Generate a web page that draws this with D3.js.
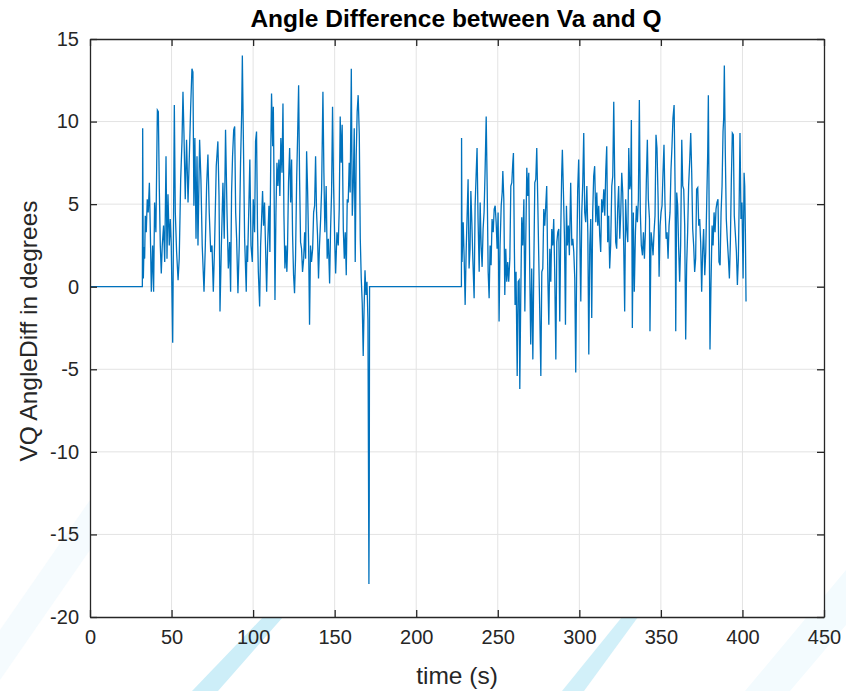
<!DOCTYPE html>
<html>
<head>
<meta charset="utf-8">
<script src="https://cdn.jsdelivr.net/npm/d3@7"></script>
<style>
  body { margin: 0; background: #fff; }
  svg { display: block; font-family: Arial, "Liberation Sans", Helvetica, sans-serif; }
</style>
</head>
<body>
<svg id="chart" width="846" height="691"></svg>
<script>
/* chart values: [time (s), angle diff (deg)] */
var idleStart = [[0, 0], [32.1, 0]];
var burstOne = [
  [32.3, 9.6], [32.7, 0.5], [33.1, 2.4], [33.5, 1.7], [33.9, 4.3], [34.5, 3.3], [35.1, 5.3], [35.7, 4.5],
  [36.4, 6.3], [37.0, 3.3], [37.6, -0.3], [38.4, 2.5], [39.0, -0.3], [39.6, 5.1], [40.4, 3.3], [41.3, 10.7],
  [41.9, 10.6], [42.5, 5.9], [43.1, 2.5], [43.7, 0.8], [44.3, 2.5], [45.1, 3.7], [45.8, 1.5], [46.6, 7.9],
  [47.2, 1.7], [47.8, 5.6], [48.6, 2.5], [49.2, 4.1], [49.8, 2.6], [50.7, -3.4], [51.7, 11.0], [52.3, 4.5],
  [53.1, 2.1], [54.0, 0.4], [54.7, 1.7], [55.6, 6.5], [56.4, 8.8], [57.0, 11.8], [57.6, 9.3], [58.4, 5.3],
  [59.2, 8.9], [60.1, 5.1], [60.9, 7.9], [61.7, 10.8], [62.5, 13.2], [63.1, 13.0], [63.7, 4.9], [64.3, 9.0],
  [65.0, 2.9], [65.6, 7.9], [66.2, 2.5], [67.2, 8.9], [68.0, 6.5], [68.8, 2.5], [69.9, -0.3], [70.7, 2.5],
  [71.5, 6.1], [72.3, 8.0], [73.1, 4.5], [74.0, 2.1], [74.8, 2.5], [75.6, -0.3], [76.4, 2.6], [77.4, 7.3],
  [78.4, 8.8], [79.1, 5.5], [79.7, -1.5], [80.5, 2.3], [81.5, 6.3], [82.3, 2.9], [83.1, 9.5], [84.0, 4.5],
  [84.8, 1.1], [85.6, 2.7], [86.2, -0.3], [86.8, 5.7], [87.4, 7.9], [88.1, 9.5], [88.7, 9.7], [89.3, 4.5],
  [89.9, 2.9], [90.7, -0.4], [91.5, 2.5], [92.3, 7.5], [93.0, 10.6], [93.4, 14.0], [94.0, 9.2], [94.8, 2.9],
  [95.8, -0.3], [96.2, 2.5], [96.6, 1.5], [97.4, 4.9], [98.0, 7.7], [98.7, 2.5], [99.5, 1.5], [100.1, 5.3],
  [100.9, 3.3], [101.5, 8.8], [102.1, 9.4], [102.7, 3.5], [103.2, 0.9], [104.0, -1.2], [104.6, 2.5], [105.2, 4.1],
  [105.8, 5.8], [106.4, 3.7], [107.0, 5.1], [107.6, 2.5], [108.3, -0.3], [108.9, 2.5], [109.7, 4.9], [110.3, 2.1],
  [110.9, 8.8], [111.3, 11.7], [112.0, 8.5], [112.4, 10.9], [113.0, 4.5], [113.4, -0.8], [114.0, 4.5], [114.6, 7.5],
  [115.2, 6.1], [115.8, 7.7], [116.4, 5.5], [117.0, 9.0], [117.7, 6.9], [118.3, 11.1], [118.9, 4.3], [119.5, 1.1],
  [120.1, 2.5], [120.7, 0.9], [121.1, 2.3], [121.7, 6.3], [122.4, 8.4], [123.0, 5.1], [123.6, 7.7], [124.2, 3.1],
  [124.8, 0.7], [125.4, -0.4], [126.0, 1.7], [126.7, 6.5], [127.3, 9.2], [127.9, 12.2], [128.5, 6.5], [129.1, 2.7],
  [129.7, 2.3], [130.3, 0.9], [131.0, 1.7], [131.6, 3.3], [132.2, 1.7], [132.8, 8.2], [133.4, 5.9], [134.0, 2.7],
  [134.6, -2.3], [135.2, 2.5], [135.8, 1.5], [136.5, 2.3], [137.1, 4.5], [137.7, 4.9], [138.3, 7.9], [138.9, 4.5],
  [139.5, 3.1], [140.1, 0.5], [140.7, 2.5], [141.4, 4.1], [142.0, 5.9], [142.8, 11.8], [143.4, 6.9], [144.0, 3.3],
  [144.8, 6.1], [145.4, 1.7], [146.1, 2.9], [146.9, 0.2], [147.5, 3.5], [148.1, 5.7], [148.7, 10.9], [149.3, 6.3],
  [150.0, 2.9], [150.6, 0.8], [151.4, 3.3], [152.2, 2.5], [152.8, 4.7], [153.4, 10.3], [154.0, 7.5], [154.6, 9.8],
  [155.3, 3.5], [155.9, 1.7], [156.5, 3.3], [157.1, 0.7], [157.7, 5.3], [158.3, 5.1], [158.9, 7.5], [159.5, 5.7],
  [160.2, 13.2], [160.8, 4.3], [161.4, 6.1], [162.0, 9.6], [162.6, 1.5], [163.2, 7.9], [163.8, 10.6], [164.4, 11.6],
  [165.1, 9.2], [165.7, 2.9], [166.3, 0.5], [166.9, -1.0], [167.5, -4.2], [168.0, -1.5], [168.6, 1.0], [169.2, -0.5],
  [169.8, 0.3], [170.4, -2.0], [171.0, -18.0], [171.2, -13.0]
];
var idleMiddle = [[171.4, 0], [227.7, 0]];
var burstTwo = [
  [227.8, 9.0], [228.1, 1.5], [228.8, 3.9], [229.4, 1.7], [230.0, -1.1], [230.6, 2.1], [231.2, 4.3], [231.8, 6.5],
  [232.4, 1.1], [233.0, 2.3], [233.5, 5.8], [234.1, 3.9], [234.7, 1.7], [235.5, -0.7], [236.1, 4.9], [236.7, 6.7],
  [237.3, 8.4], [237.9, 4.1], [238.6, 0.9], [239.2, 5.1], [239.8, 2.5], [240.4, 1.2], [241.0, 3.5], [241.6, 4.5],
  [242.2, 6.9], [242.9, 10.3], [243.5, 6.1], [244.1, 0.9], [244.7, -0.7], [245.3, 2.5], [245.9, 1.3], [246.5, 4.1],
  [247.2, 3.3], [247.8, 4.7], [248.4, 4.9], [249.0, 3.9], [249.6, 2.3], [250.2, 4.5], [250.8, -2.1], [251.4, 2.5],
  [252.1, 4.9], [252.7, 5.7], [253.1, 7.0], [253.7, 5.3], [254.3, -0.5], [254.9, 2.3], [255.5, 0.3], [256.1, 1.5],
  [256.7, 0.3], [257.4, 1.7], [258.0, 6.1], [258.6, 6.3], [259.2, 7.5], [259.6, 8.1], [260.2, 2.1], [260.6, -1.1],
  [261.2, 0.9], [261.9, -5.4], [262.5, 0.3], [263.1, 0.4], [263.5, -6.2], [264.1, -0.5], [264.7, 4.2], [265.3, 2.5],
  [266.0, 5.3], [266.6, -1.5], [267.2, 3.1], [267.8, 7.2], [268.4, 5.5], [269.0, 6.9], [269.6, 0.9], [270.2, -3.5],
  [270.8, 1.1], [271.5, -4.4], [272.1, 1.3], [272.7, 6.3], [273.3, 6.5], [273.9, 8.4], [274.5, 5.3], [275.1, 1.9],
  [275.7, -1.3], [276.4, -5.4], [277.0, 0.9], [277.6, 1.1], [278.2, 4.7], [278.8, 3.7], [279.4, 4.9], [280.0, 6.1],
  [280.7, 0.5], [281.3, -2.3], [281.9, 2.3], [282.5, 0.3], [283.1, 3.5], [283.7, 2.5], [284.3, 4.1], [284.9, 0.9],
  [285.6, -4.4], [286.2, 2.7], [286.8, 3.3], [287.4, 3.5], [288.0, -2.1], [288.6, 3.3], [289.2, 6.9], [289.6, 8.3],
  [290.3, 5.5], [290.9, 2.9], [291.5, -2.3], [292.1, 4.9], [292.7, 2.5], [293.3, 3.7], [293.9, 1.9], [294.7, 6.3],
  [295.4, 2.5], [296.0, 2.9], [296.6, 2.1], [297.2, 0.5], [297.8, -5.2], [298.4, 1.5], [299.0, 5.9], [299.6, 7.7],
  [300.3, 3.3], [300.9, -0.9], [301.5, 4.5], [302.1, 6.3], [302.7, 9.3], [303.3, 4.5], [303.9, 3.9], [304.6, 6.1],
  [305.2, 3.3], [305.8, -4.1], [306.4, 2.5], [307.0, 4.1], [307.6, -1.9], [308.2, 4.5], [308.8, 6.7], [309.4, 7.3],
  [310.1, 3.9], [310.7, 5.7], [311.3, 3.7], [311.9, 4.9], [312.5, 3.1], [313.1, 2.1], [313.7, 5.3], [314.3, 4.5],
  [315.0, 5.9], [315.6, 4.3], [316.2, 7.0], [316.8, 8.5], [317.4, 2.7], [318.0, 4.3], [318.6, 1.1], [319.2, 2.5],
  [319.9, 6.1], [320.5, 6.7], [321.1, 11.2], [321.7, 6.5], [322.3, 2.7], [322.9, 2.3], [323.5, 4.7], [324.1, 6.1],
  [324.8, 2.9], [325.4, 4.5], [326.0, 6.9], [326.6, 5.7], [327.2, 2.5], [327.8, -1.5], [328.4, 5.3], [329.0, 3.5],
  [329.7, 2.7], [330.3, 8.4], [330.9, 5.9], [331.5, 6.3], [331.9, 10.1], [332.5, -2.5], [333.1, 4.5], [333.7, -0.3],
  [334.4, 3.3], [335.0, 4.9], [335.6, 3.9], [336.2, 5.3], [336.8, 11.3], [337.4, 4.5], [338.0, 2.5], [338.7, 1.9],
  [339.3, 3.3], [339.9, 1.7], [340.5, 3.3], [341.1, 6.5], [341.7, 8.9], [342.3, 5.3], [343.0, 4.1], [343.3, -2.7],
  [344.0, 3.3], [344.6, 2.7], [345.2, 1.9], [345.8, 3.3], [346.4, 4.3], [347.0, 9.2], [347.6, 8.4], [348.3, 5.3],
  [348.9, 0.6], [349.5, 3.7], [350.1, 4.5], [350.7, 4.9], [351.3, 6.9], [351.9, 8.6], [352.5, 5.1], [353.2, 2.9],
  [353.8, 3.3], [354.4, 1.7], [355.0, 3.7], [355.6, 4.5], [356.2, 7.1], [356.8, 8.5], [357.4, 10.2], [358.1, 11.0],
  [358.7, 6.1], [359.1, -2.7], [359.7, 5.7], [360.3, 4.9], [360.9, 2.3], [361.5, 0.3], [362.1, 2.5], [362.8, 8.9],
  [363.4, 6.1], [364.0, 5.9], [364.6, 3.7], [365.2, -3.2], [365.8, 1.3], [366.4, 3.3], [367.0, 6.1], [367.7, 7.7],
  [368.3, 9.3], [368.9, 6.9], [369.5, 3.5], [370.1, 2.5], [370.7, 0.9], [371.3, 1.7], [371.9, 5.9], [372.6, 6.0],
  [373.2, 3.7], [373.8, 4.1], [374.4, 2.7], [375.0, -0.3], [375.6, 2.1], [376.2, 3.5], [376.9, 0.7], [377.5, 2.1],
  [378.1, 5.1], [378.7, 8.1], [379.1, 11.6], [379.7, 2.9], [380.1, -3.8], [380.7, 0.1], [381.4, 3.7], [382.0, 2.5],
  [382.6, 4.5], [383.2, 3.3], [383.8, 4.7], [384.4, 5.1], [385.0, 5.3], [385.6, 1.5], [386.3, 1.3], [386.9, 4.5],
  [387.5, 6.1], [388.1, 9.4], [388.5, 10.2], [388.9, 13.4], [389.5, 8.1], [390.1, 4.1], [390.7, 2.9], [391.4, 1.7],
  [392.0, 0.5], [392.6, 2.7], [393.2, 6.5], [393.8, 9.3], [394.4, 9.2], [395.0, 4.3], [395.6, 3.3], [396.3, 2.1],
  [396.9, 0.1], [397.5, 1.7], [398.1, 5.9], [398.5, 9.3], [399.1, 4.1], [399.7, 5.1], [400.4, 0.5], [401.0, 6.9],
  [401.4, 6.1], [401.8, 3.3], [402.2, -0.9]
];

var xTicks = [0, 50, 100, 150, 200, 250, 300, 350, 400, 450];
var yTicks = [-20, -15, -10, -5, 0, 5, 10, 15];
var xDomain = [0, 450];
var yDomain = [-20, 15];

var titleText = "Angle Difference between Va and Q";
var xLabel = "time (s)";
var yLabel = "VQ AngleDiff in degrees";

/*///////////////////////////////////////////////////////////
// setup
///////////////////////////////////////////////////////////*/
var W = 846, H = 691;
var margin = {top: 39, right: 22, bottom: 74, left: 90};
var w = W - margin.left - margin.right,
	h = H - margin.top - margin.bottom;
var ink = "#262626";

var svg = d3.select("#chart");

/* faint watermark bands behind the axes */
var bands = [
	{pts: [[192, 691], [218, 691], [283, 617], [263, 617]], fill: "#cdeef8"},
	{pts: [[562, 691], [584, 691], [638, 617], [622, 617]], fill: "#d2f0f9"},
	{pts: [[745, 691], [790, 691], [846, 625], [846, 570]], fill: "#f3fbfe"},
	{pts: [[0, 680], [0, 630], [90, 500], [90, 550]], fill: "#f5fbfe"}
];
svg.selectAll(".band")
	.data(bands)
	.enter().append("polygon")
	.attr("class", "band")
	.attr("points", function(d) { return d.pts.join(" "); })
	.attr("fill", function(d) { return d.fill; });

var g = svg.append("g")
	.attr("transform", "translate(" + margin.left + "," + margin.top + ")");

var x = d3.scaleLinear().domain(xDomain).range([0, w]);
var y = d3.scaleLinear().domain(yDomain).range([h, 0]);

g.append("rect")
	.attr("width", w)
	.attr("height", h)
	.attr("fill", "#fff");

/* grid */
g.append("g")
	.selectAll("line")
	.data(xTicks.slice(1, -1))
	.enter().append("line")
	.attr("x1", function(d) { return x(d); })
	.attr("x2", function(d) { return x(d); })
	.attr("y1", 0).attr("y2", h)
	.attr("stroke", "#e3e3e3");
g.append("g")
	.selectAll("line")
	.data(yTicks.slice(1, -1))
	.enter().append("line")
	.attr("y1", function(d) { return y(d); })
	.attr("y2", function(d) { return y(d); })
	.attr("x1", 0).attr("x2", w)
	.attr("stroke", "#e3e3e3");

/* the signal */
var series = idleStart.concat(burstOne, idleMiddle, burstTwo);
var line = d3.line()
	.x(function(d) { return x(d[0]); })
	.y(function(d) { return y(d[1]); });

g.append("path")
	.datum(series)
	.attr("fill", "none")
	.attr("stroke", "#0072bd")
	.attr("stroke-width", 1.3)
	.attr("d", line);

/* axes, matlab style: ticks inward on all four sides */
var plainNum = function(d) { return String(d); };

function styleAxis(sel) {
	sel.select(".domain").attr("stroke", ink).attr("stroke-width", 1.3);
	sel.selectAll(".tick line").attr("stroke", ink).attr("stroke-width", 1.3);
	sel.selectAll("text")
		.attr("fill", ink)
		.style("font-size", "20px")
		.style("font-family", "Arial, 'Liberation Sans', sans-serif");
}

var xAxis = g.append("g")
	.attr("transform", "translate(0," + h + ")")
	.call(d3.axisBottom(x).tickValues(xTicks).tickFormat(plainNum)
		.tickSizeInner(-7).tickSizeOuter(0).tickPadding(13))
	.call(styleAxis);
xAxis.selectAll("text").attr("dy", "0.71em");

g.append("g")
	.call(d3.axisTop(x).tickValues(xTicks).tickSizeInner(-7).tickSizeOuter(0).tickFormat(""))
	.call(styleAxis);

g.append("g")
	.call(d3.axisLeft(y).tickValues(yTicks).tickFormat(plainNum)
		.tickSizeInner(-7).tickSizeOuter(0).tickPadding(11))
	.call(styleAxis);

g.append("g")
	.attr("transform", "translate(" + w + ",0)")
	.call(d3.axisRight(y).tickValues(yTicks).tickSizeInner(-7).tickSizeOuter(0).tickFormat(""))
	.call(styleAxis);

/* labels */
svg.append("text")
	.attr("x", margin.left + w / 2 - 1)
	.attr("y", 27)
	.attr("text-anchor", "middle")
	.attr("fill", "#000")
	.style("font-size", "24.5px")
	.style("font-weight", "bold")
	.text(titleText);

svg.append("text")
	.attr("x", margin.left + w / 2)
	.attr("y", 684)
	.attr("text-anchor", "middle")
	.attr("fill", ink)
	.style("font-size", "24.5px")
	.text(xLabel);

svg.append("text")
	.attr("transform", "translate(37," + (margin.top + h / 2 + 3) + ") rotate(-90)")
	.attr("text-anchor", "middle")
	.attr("fill", ink)
	.style("font-size", "24.5px")
	.text(yLabel);
</script>
</body>
</html>
